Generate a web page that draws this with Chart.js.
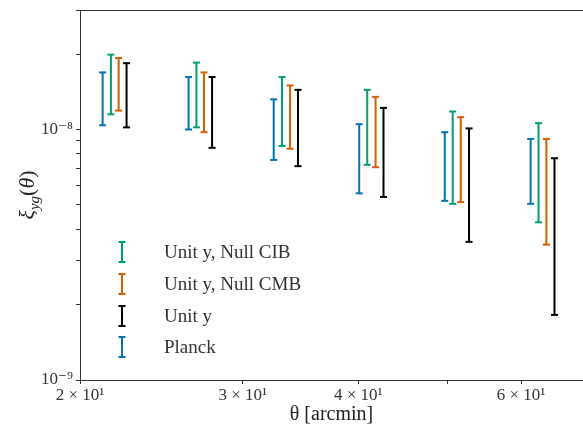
<!DOCTYPE html>
<html>
<head>
<meta charset="utf-8">
<script src="https://cdn.jsdelivr.net/npm/chart.js@4"></script>
<style>
  html, body { margin: 0; padding: 0; background: #fff; overflow: hidden; }
  #wrap { width: 583px; height: 427px; position: relative; overflow: hidden; }
  #wrap canvas { display: block; }
</style>
</head>
<body>
<div id="wrap"><canvas id="xiChart"></canvas></div>
<script>
// theta positions (arcmin) for each series, slightly offset per group
const thetaPlanck  = [21.16, 26.21, 32.40, 40.09, 49.61, 61.44];
const thetaNullCIB = [21.60, 26.73, 33.08, 40.90, 50.60, 62.66];
const thetaNullCMB = [22.02, 27.24, 33.75, 41.76, 51.62, 63.90];
const thetaUnitY   = [22.46, 27.79, 34.42, 42.59, 52.70, 65.20];

// error bar ranges (lower / upper)
const planckLo  = [1.04e-8, 1.00e-8, 7.56e-9, 5.56e-9, 5.19e-9, 5.05e-9];
const planckHi  = [1.69e-8, 1.62e-8, 1.32e-8, 1.05e-8, 9.76e-9, 9.17e-9];
const nullCIBLo = [1.15e-8, 1.02e-8, 8.60e-9, 7.23e-9, 5.05e-9, 4.26e-9];
const nullCIBHi = [1.99e-8, 1.85e-8, 1.62e-8, 1.44e-8, 1.18e-8, 1.06e-8];
const nullCMBLo = [1.19e-8, 9.76e-9, 8.38e-9, 7.07e-9, 5.13e-9, 3.47e-9];
const nullCMBHi = [1.93e-8, 1.69e-8, 1.50e-8, 1.35e-8, 1.12e-8, 9.17e-9];
const unitYLo   = [1.02e-8, 8.45e-9, 7.14e-9, 5.38e-9, 3.56e-9, 1.82e-9];
const unitYHi   = [1.84e-8, 1.62e-8, 1.44e-8, 1.22e-8, 1.01e-8, 7.68e-9];

const xTicks = [20, 30, 40, 50, 60];
const xTickLabels = { 20: '2 × 10¹', 30: '3 × 10¹', 40: '4 × 10¹', 60: '6 × 10¹' };
const yTicks = [1e-9, 2e-9, 3e-9, 4e-9, 5e-9, 6e-9, 7e-9, 8e-9, 9e-9, 1e-8, 2e-8, 3e-8];
const yTickLabels = { '1e-9': '10⁻⁹', '1e-8': '10⁻⁸' };

const legendLabels = ['Unit y, Null CIB', 'Unit y, Null CMB', 'Unit y', 'Planck'];

const colors = {
    planck: '#0173b2',
    cib: '#029e73',
    cmb: '#d55e00',
    unit: '#000000'
};

const SERIF = '"Liberation Serif", "DejaVu Serif", serif';
const AXIS_COLOR = '#333';

// vertical segments lo->hi, separated by gaps
function errorBars(theta, lo, hi) {
    const pts = [];
    for (let i = 0; i < theta.length; i++) {
        pts.push({ x: theta[i], y: lo[i] });
        pts.push({ x: theta[i], y: hi[i] });
        pts.push({ x: theta[i], y: null });
    }
    return pts;
}

function barSet(label, theta, lo, hi, color) {
    return {
        label: label,
        data: errorBars(theta, lo, hi),
        borderColor: color,
        backgroundColor: color,
        borderWidth: 2,
        pointStyle: 'line',
        pointRadius: 3.5,
        pointBorderWidth: 2,
        pointHoverRadius: 3.5,
        spanGaps: false,
        tension: 0,
        fill: false
    };
}

// draws top spine, y title with subscript and the legend
const decorPlugin = {
    id: 'decor',
    afterDraw(chart) {
        const ctx = chart.ctx;
        const area = chart.chartArea;
        ctx.save();

        // top spine
        ctx.strokeStyle = AXIS_COLOR;
        ctx.lineWidth = 1;
        ctx.beginPath();
        ctx.moveTo(area.left, area.top + 0.5);
        ctx.lineTo(area.right, area.top + 0.5);
        ctx.stroke();

        // y-axis title: xi_{yg}(theta)
        ctx.fillStyle = '#222';
        ctx.textBaseline = 'alphabetic';
        const big = 'italic 22px ' + SERIF;
        const small = 'italic 15px ' + SERIF;
        const norm = '22px ' + SERIF;
        const parts = [
            { t: 'ξ', f: big, dy: 0 },
            { t: 'yg', f: small, dy: 5 },
            { t: '(', f: norm, dy: 0 },
            { t: 'θ', f: big, dy: 0 },
            { t: ')', f: norm, dy: 0 }
        ];
        let total = 0;
        parts.forEach(p => { ctx.font = p.f; p.w = ctx.measureText(p.t).width; total += p.w; });
        ctx.translate(34, (area.top + area.bottom) / 2);
        ctx.rotate(-Math.PI / 2);
        let cx = -total / 2;
        parts.forEach(p => {
            ctx.font = p.f;
            ctx.fillText(p.t, cx, p.dy);
            cx += p.w;
        });
        ctx.setTransform(1, 0, 0, 1, 0, 0);

        // legend
        const legColors = [colors.cib, colors.cmb, colors.unit, colors.planck];
        const rowY = [252, 284, 316, 347];
        ctx.font = '19px ' + SERIF;
        ctx.textBaseline = 'middle';
        for (let i = 0; i < legendLabels.length; i++) {
            const y = rowY[i];
            const x = 122;
            ctx.strokeStyle = legColors[i];
            ctx.lineWidth = 2;
            ctx.beginPath();
            ctx.moveTo(x, y - 10); ctx.lineTo(x, y + 10);
            ctx.moveTo(x - 3.5, y - 10); ctx.lineTo(x + 3.5, y - 10);
            ctx.moveTo(x - 3.5, y + 10); ctx.lineTo(x + 3.5, y + 10);
            ctx.stroke();
            ctx.fillStyle = '#333';
            ctx.fillText(legendLabels[i], 164, y + 1);
        }
        ctx.restore();
    }
};

new Chart(document.getElementById('xiChart'), {
    type: 'line',
    data: {
        datasets: [
            barSet('Planck', thetaPlanck, planckLo, planckHi, colors.planck),
            barSet('Unit y, Null CIB', thetaNullCIB, nullCIBLo, nullCIBHi, colors.cib),
            barSet('Unit y, Null CMB', thetaNullCMB, nullCMBLo, nullCMBHi, colors.cmb),
            barSet('Unit y', thetaUnitY, unitYLo, unitYHi, colors.unit)
        ]
    },
    options: {
        responsive: true,
        maintainAspectRatio: false,
        animation: false,
        layout: { autoPadding: false, padding: { top: 10, right: 0, left: 0, bottom: 0 } },
        plugins: {
            legend: { display: false },
            tooltip: { enabled: false }
        },
        scales: {
            x: {
                type: 'logarithmic',
                min: 20,
                max: 70,
                afterBuildTicks: (scale) => { scale.ticks = xTicks.map(v => ({ value: v })); },
                afterFit: (scale) => {
                    scale.height = 47;
                    scale.paddingLeft = 0;
                    scale.paddingRight = 0;
                },
                ticks: {
                    autoSkip: false,
                    maxRotation: 0,
                    padding: 1,
                    color: '#333',
                    font: { family: SERIF, size: 17 },
                    callback: (value) => xTickLabels[value] || ''
                },
                grid: { drawOnChartArea: false, drawTicks: true, tickLength: 4, color: AXIS_COLOR },
                border: { display: true, color: AXIS_COLOR, width: 1 },
                title: {
                    display: true,
                    text: 'θ [arcmin]',
                    color: '#222',
                    font: { family: SERIF, size: 20 },
                    padding: { top: 0, bottom: 0 }
                }
            },
            y: {
                type: 'logarithmic',
                min: 1e-9,
                max: 3e-8,
                afterBuildTicks: (scale) => { scale.ticks = yTicks.map(v => ({ value: v })); },
                afterFit: (scale) => {
                    scale.width = 80;
                    scale.paddingTop = 0;
                    scale.paddingBottom = 0;
                },
                ticks: {
                    autoSkip: false,
                    padding: 3,
                    color: '#333',
                    font: { family: SERIF, size: 17 },
                    callback: (value) => yTickLabels[value.toExponential(0).replace('+', '')] || ''
                },
                grid: { drawOnChartArea: false, drawTicks: true, tickLength: 4, color: AXIS_COLOR },
                border: { display: true, color: AXIS_COLOR, width: 1 }
            }
        }
    },
    plugins: [decorPlugin]
});
</script>
</body>
</html>
